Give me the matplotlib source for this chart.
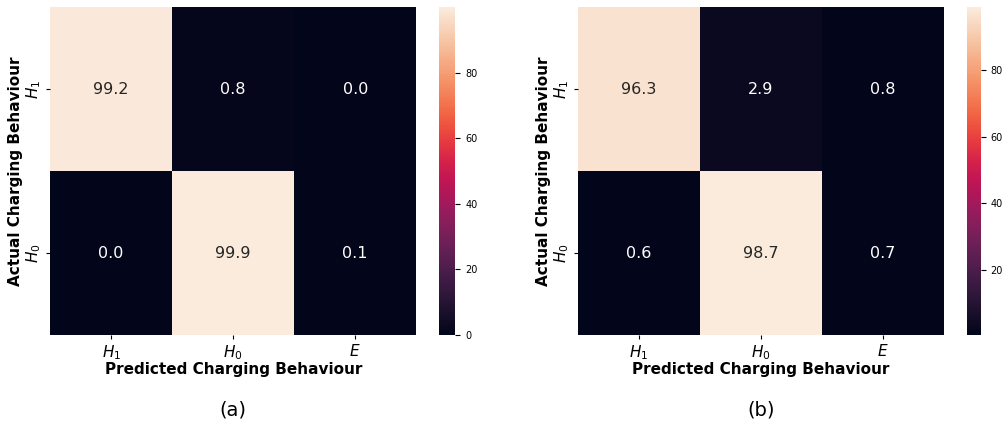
import numpy as np
import seaborn as sns
from matplotlib import pyplot as plt

rows = ['$H_1$', '$H_0$']
cols = ['$H_1$', '$H_0$', '$E$']
valores_a = [[99.2, 0.8, 0.0],
             [0.0, 99.9, 0.1]]
valores_b = [[96.3, 2.9, 0.8],
             [0.6, 98.7, 0.7]]
legendas = ['(a)', '(b)']

fig = plt.figure(figsize=(10.03, 4.29), dpi=100)

posicoes = [
    ([0.050, 0.219, 0.365, 0.764], [0.438, 0.219, 0.016, 0.764]),
    ([0.576, 0.219, 0.365, 0.764], [0.964, 0.219, 0.014, 0.764]),
]

for valores, legenda, (pos_ax, pos_cb) in zip([valores_a, valores_b], legendas, posicoes):
    ax = fig.add_axes(pos_ax)
    cax = fig.add_axes(pos_cb)
    sns.heatmap(np.array(valores), annot=True, fmt='.1f', cmap='rocket',
                xticklabels=cols, yticklabels=rows, ax=ax, cbar_ax=cax,
                annot_kws={'size': 11.5})
    ax.tick_params(axis='both', labelsize=11, length=3, pad=3)
    ax.tick_params(axis='y', pad=2)
    ax.set_yticklabels(rows, rotation=90, va='center')
    ax.set_xlabel('Predicted Charging Behaviour', fontsize=11, fontweight='bold', labelpad=0)
    ax.set_ylabel('Actual Charging Behaviour', fontsize=11, fontweight='bold', labelpad=1)
    cax.tick_params(labelsize=7)
    cax.yaxis.set_ticks([t for t in [0, 20, 40, 60, 80]
                         if t >= np.min(valores)])
    x_meio = pos_ax[0] + pos_ax[2] / 2
    fig.text(x_meio, 0.044, legenda, ha='center', va='center', fontsize=14)

plt.savefig('out.png')
plt.close(fig)
